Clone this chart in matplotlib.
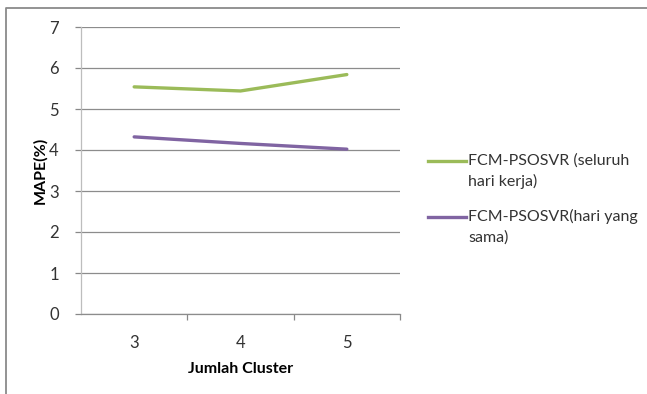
import matplotlib.pyplot as plt
from matplotlib.lines import Line2D

plt.rcParams["font.family"] = ["Lato", "DejaVu Sans"]

clusters = [3, 4, 5]
mape_all_days = [5.54, 5.44, 5.84]
mape_same_day = [4.32, 4.16, 4.02]
labels = ["FCM-PSOSVR (seluruh\nhari kerja)", "FCM-PSOSVR(hari yang\nsama)"]
colors = ["#9BBB59", "#8064A2"]
yticks = [0, 1, 2, 3, 4, 5, 6, 7]

W, H = 647, 394
fig = plt.figure(figsize=(W / 100, H / 100), dpi=100)
ax = fig.add_axes([81 / W, 1 - 314 / H, (400 - 81) / W, (314 - 27) / H])

pos = range(len(clusters))
for vals, c, lab in zip([mape_all_days, mape_same_day], colors, labels):
    ax.plot(pos, vals, color=c, lw=2.4, solid_capstyle="round", label=lab)

ax.set_xlim(-0.5, len(clusters) - 0.5)
ax.set_ylim(0, 7)
ax.set_yticks(yticks)
ax.set_yticklabels([str(v) for v in yticks], fontsize=12, color="#333333")
ax.set_xticks(list(pos))
ax.set_xticklabels([str(c) for c in clusters], fontsize=12, color="#333333")
ax.set_xticks([0.5 + i for i in range(len(clusters))], minor=True)
ax.tick_params(axis="x", which="major", length=0, pad=15)
ax.tick_params(axis="x", which="minor", length=4, color="#888888", width=0.9)
ax.tick_params(axis="y", length=4, color="#888888", width=0.9, pad=12)
ax.grid(axis="y", color="#8c8c8c", lw=0.9)
ax.set_axisbelow(True)
for s in ["top", "right"]:
    ax.spines[s].set_visible(False)
ax.spines["left"].set_color("#bdbdbd")
ax.spines["bottom"].set_color("#8c8c8c")
ax.spines["left"].set_linewidth(0.9)
ax.spines["bottom"].set_linewidth(0.9)

ax.set_ylabel("MAPE(%)", fontsize=11.5, fontweight="bold", labelpad=1)
ax.set_xlabel("Jumlah Cluster", fontsize=11.5, fontweight="bold", labelpad=8)

# legend drawn Excel-style: handle aligned with first line of label
leg_y = [161, 217]
for lab, c, y in zip(labels, colors, leg_y):
    fig.add_artist(Line2D([428 / W, 466 / W], [1 - y / H, 1 - y / H],
                          color=c, lw=2.4, transform=fig.transFigure))
    fig.text(468 / W, 1 - (y - 8) / H, lab, fontsize=11.5, color="#333333",
             va="top", ha="left", linespacing=1.55)

# outer chart border (clipped at right and bottom)
fig.add_artist(Line2D([5.5 / W, 5.5 / W, 1.0], [0.0, 1 - 7.5 / H, 1 - 7.5 / H],
                      color="#8a8a8a", lw=1.3, transform=fig.transFigure))

fig.savefig("out.png", dpi=100)
